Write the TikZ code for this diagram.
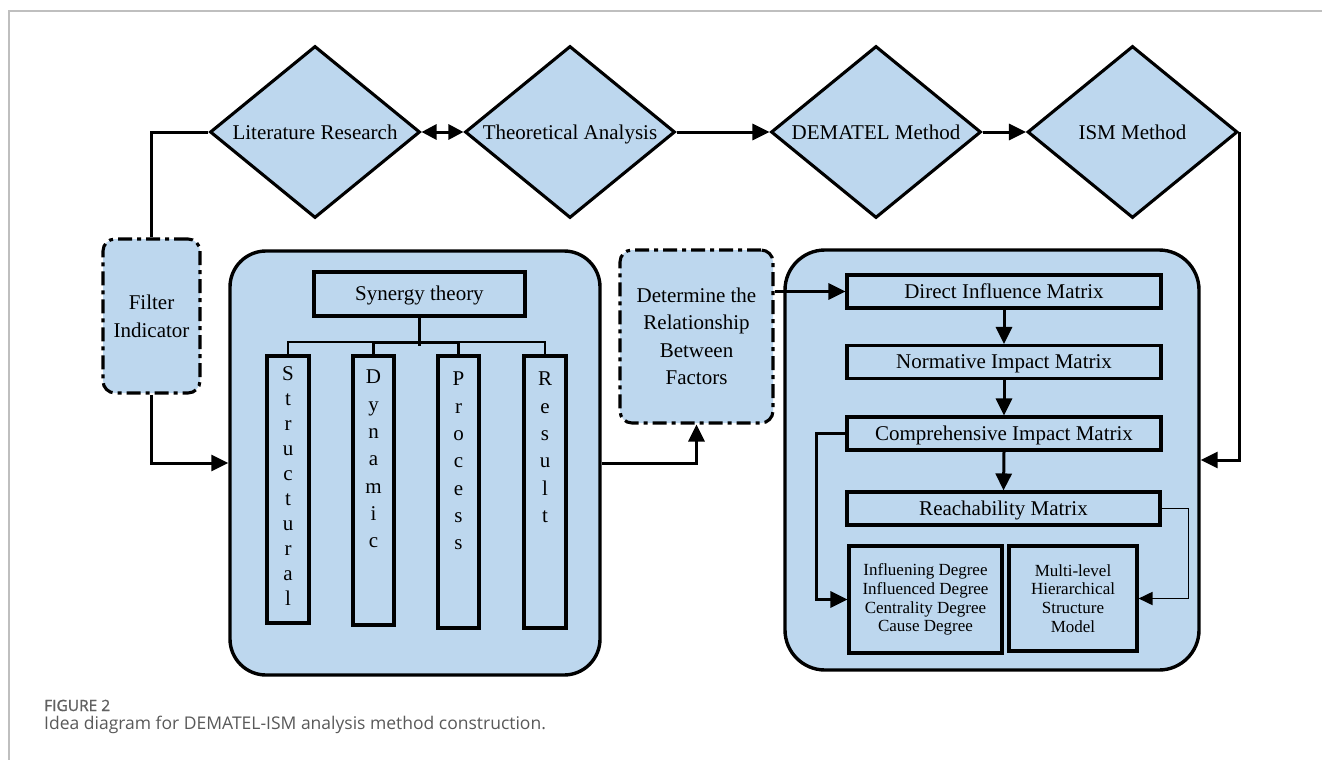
\documentclass[tikz,border=0pt]{standalone}
\usepackage{fontspec}
\setmainfont{Liberation Serif}
\newfontfamily\capfont{Open Sans}
\newfontfamily\capsemi[FakeBold=1.3]{Open Sans}
\usetikzlibrary{shapes.geometric,arrows.meta}
\definecolor{boxblue}{HTML}{BDD7EE}
\begin{document}
\begin{tikzpicture}[x=1pt,y=-1pt,
  font=\fontsize{21}{25}\selectfont,
  base/.style={fill=boxblue,draw=black,line width=3.1pt},
  dlabel/.style={text height=16pt,text depth=2pt,inner sep=0pt},
  dia/.style={base,shape=diamond,minimum width=210pt,minimum height=172pt,inner sep=0pt},
  bigbox/.style={base,rounded corners=36pt,line width=3.4pt,inner sep=0pt},
  dashbox/.style={base,rounded corners=12pt,dash pattern=on 14pt off 5pt on 4pt off 5pt,align=center,inner sep=0pt},
  mbox/.style={base,minimum width=314pt,minimum height=33pt,inner sep=0pt,text height=15pt,text depth=2pt},
  vbox/.style={base,inner sep=0pt},
  letters/.style={anchor=north,align=center,inner sep=0pt,font=\fontsize{21}{27.3}\selectfont},
  conn/.style={line width=3pt},
  arr/.style={conn,-{Triangle[length=17pt,width=16pt]}},
  tree/.style={line width=2pt},
  treethick/.style={line width=3pt}
]
\useasboundingbox (0,0) rectangle (1322,760);
\fill[white] (0,0) rectangle (1322,760);
\draw[black!25,line width=1.4pt] (9,760) -- (9,11) -- (1322,11);

% diamonds
\node[dia,label={[dlabel]center:Literature Research}] (lit) at (315,132) {};
\node[dia,label={[dlabel]center:Theoretical Analysis}] (theo) at (570,132) {};
\node[dia,label={[dlabel]center:DEMATEL Method}] (dem) at (876,132) {};
\node[dia,label={[dlabel]center:ISM Method}] (ism) at (1132.5,132) {};

% filter
\node[dashbox,minimum width=97pt,minimum height=154pt,font=\fontsize{21}{28}\selectfont] (filter) at (151.5,316) {Filter\\Indicator};

% left big box
\node[bigbox,minimum width=370pt,minimum height=424pt] (leftbox) at (415,463) {};
\node[base,minimum width=211pt,minimum height=44pt,inner sep=0pt,text height=15pt,text depth=3pt] (syn) at (419.5,294) {Synergy theory};
\node[vbox,minimum width=42pt,minimum height=267pt] (str) at (288,489.5) {};
\node[vbox,minimum width=41pt,minimum height=269pt] (dyn) at (373.5,490.5) {};
\node[vbox,minimum width=41pt,minimum height=272pt] (pro) at (458.5,492) {};
\node[vbox,minimum width=42pt,minimum height=272pt] (res) at (545,492) {};
\node[letters,font=\fontsize{21}{25}\selectfont] (strT) at (288,366) {S\\t\\r\\u\\c\\t\\u\\r\\a\\l};
\node[letters] (dynT) at (373.5,370) {D\\y\\n\\a\\m\\i\\c};
\node[letters] (proT) at (458.5,372) {P\\r\\o\\c\\e\\s\\s};
\node[letters] (resT) at (545,372) {R\\e\\s\\u\\l\\t};
\draw[tree] (str.north) -- ++(0,-12) -| (res.north);
\draw[treethick] (dyn.north) -- ++(0,-12) -| (pro.north);
\draw[treethick] (syn.south) -- ++(0,28);

% determine
\node[dashbox,minimum width=153pt,minimum height=173pt,font=\fontsize{21}{27.5}\selectfont] (det) at (696.5,336.5) {Determine the\\Relationship\\Between\\Factors};

% right big box
\node[bigbox,minimum width=414pt,minimum height=420pt,rounded corners=40pt] (rightbox) at (992,460) {};
\node[mbox] (direct) at (1004,291.5) {Direct Influence Matrix};
\node[mbox] (norm) at (1004,362) {Normative Impact Matrix};
\node[mbox] (comp) at (1004,433.5) {Comprehensive Impact Matrix};
\node[mbox,minimum width=313pt] (reach) at (1003.5,508.5) {Reachability Matrix};
\node[base,minimum width=153pt,minimum height=107pt,inner sep=0pt,align=center,font=\fontsize{17}{18.7}\selectfont] (infl) at (925.5,599.5) {Influening Degree\\Influenced Degree\\Centrality Degree\\Cause Degree};
\node[base,minimum width=128pt,minimum height=105pt,inner sep=0pt,align=center,font=\fontsize{17}{18.7}\selectfont] (multi) at (1073,598.5) {Multi-level\\Hierarchical\\Structure\\Model};

% connectors
\draw[conn] (lit.west) -| (filter.north);
\draw[arr] (filter.south) |- (leftbox.west);
\draw[arr] (leftbox.east) -| (det.south);
\draw[arr] (det.east |- direct.west) -- (direct.west);
\draw[conn,{Triangle[length=15pt,width=15pt]}-{Triangle[length=15pt,width=15pt]}] (lit.east) -- (theo.west);
\draw[arr] (theo.east) -- (dem.west);
\draw[arr] (dem.east) -- (ism.west);
\draw[arr] (ism.east) |- (rightbox.east);
\draw[arr] (direct.south) -- (norm.north);
\draw[arr] (norm.south) -- (comp.north);
\draw[arr] (comp.south) -- (reach.north);
\draw[arr] (comp.west) -- ++(-29,0) |- (infl.west);
\draw[line width=1.8pt,-{Triangle[length=14pt,width=13pt]}] (reach.east) -- ++(27,0) |- (multi.east);

% caption
\node[anchor=base west,inner sep=0pt,text=black!62,font=\capsemi\fontsize{15.5}{18}\selectfont] (figno) at (44,711) {FIGURE 2};
\node[anchor=base west,inner sep=0pt,text=black!65,font=\capfont\fontsize{17.5}{20}\selectfont] (cap) at (44,729) {Idea diagram for DEMATEL-ISM analysis method construction.};
\end{tikzpicture}
\end{document}
